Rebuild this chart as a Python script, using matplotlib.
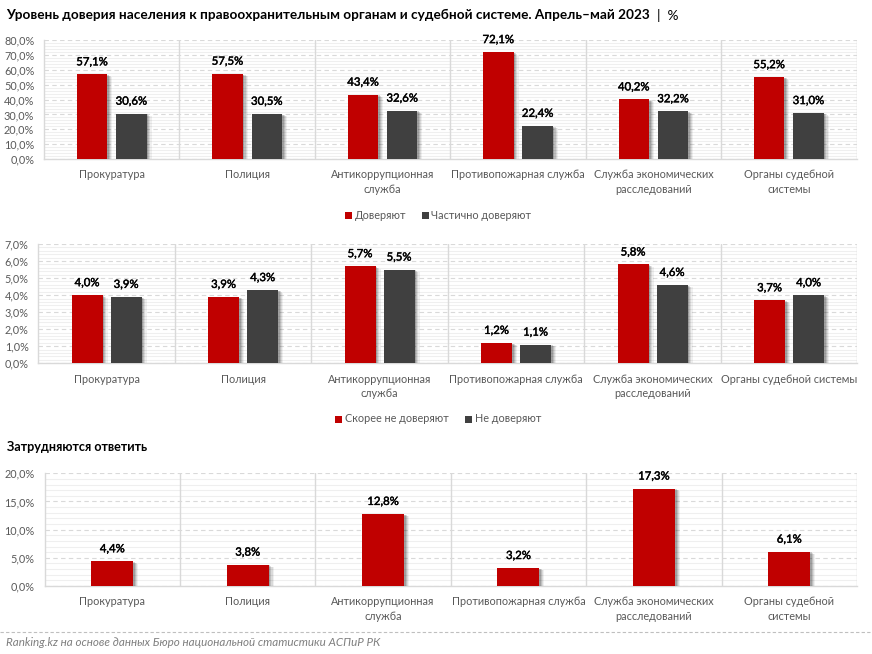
import matplotlib
matplotlib.use("Agg")
import matplotlib.pyplot as plt
import matplotlib.patheffects as pe
from matplotlib.ticker import MultipleLocator, FuncFormatter
import numpy as np

plt.rcParams['font.family'] = ['Lato', 'Noto Sans', 'DejaVu Sans']

title = "Уровень доверия населения к правоохранительным органам и судебной системе. Апрель–май 2023"
title_unit = "  |  %"
subtitle = "Затрудняются ответить"
source = "Ranking.kz на основе данных Бюро национальной статистики АСПиР РК"

cats_a = ["Прокуратура", "Полиция", "Антикоррупционная\nслужба", "Противопожарная служба",
          "Служба экономических\nрасследований", "Органы судебной\nсистемы"]
cats_b = ["Прокуратура", "Полиция", "Антикоррупционная\nслужба", "Противопожарная служба",
          "Служба экономических\nрасследований", "Органы судебной системы"]

trust = [57.1, 57.5, 43.4, 72.1, 40.2, 55.2]
part_trust = [30.6, 30.5, 32.6, 22.4, 32.2, 31.0]
rather_not = [4.0, 3.9, 5.7, 1.2, 5.8, 3.7]
not_trust = [3.9, 4.3, 5.5, 1.1, 4.6, 4.0]
hard = [4.4, 3.8, 12.8, 3.2, 17.3, 6.1]

RED = "#C00000"
DARK = "#404040"
W, H = 872, 654
fig = plt.figure(figsize=(W/100, H/100), dpi=100, facecolor="white")

def mkax(x0, x1, ytop, ybot):
    return fig.add_axes([x0/W, 1-ybot/H, (x1-x0)/W, (ybot-ytop)/H])

fmt = FuncFormatter(lambda v, p: f"{v:.1f}%".replace(".", ","))
shadow = [pe.SimplePatchShadow(offset=(d, -d*0.5), shadow_rgbFace="#000000", alpha=a)
          for d, a in ((3.6, 0.06), (2.8, 0.09), (2.0, 0.12), (1.2, 0.16))] + [pe.Normal()]
label_fx = [pe.withStroke(linewidth=0.3, foreground="black")]

def panel(ax, cats, series, colors, ymax, major, minor, bw, gap, ypad):
    x = np.arange(len(cats))
    n = len(series)
    offs = [0.0] if n == 1 else [-(bw+gap)/2, (bw+gap)/2]
    for s, c, o in zip(series, colors, offs):
        bars = ax.bar(x+o, s, bw, color=c, zorder=3)
        for b in bars:
            b.set_path_effects(shadow)
        for xi, v in zip(x+o, s):
            ax.annotate(f"{v:.1f}%".replace(".", ","), (xi, v), xytext=(0, 5), textcoords="offset points",
                        ha="center", va="bottom", fontsize=8.2, color="black", zorder=5,
                        path_effects=label_fx)
    ax.set_xlim(-0.5, len(cats)-0.5)
    ax.set_ylim(0, ymax)
    ax.yaxis.set_major_locator(MultipleLocator(major))
    ax.yaxis.set_minor_locator(MultipleLocator(minor))
    ax.yaxis.set_major_formatter(fmt)
    ax.grid(True, which="minor", axis="y", color="#EFEFEF", lw=0.8, zorder=0)
    ax.grid(True, which="major", axis="y", color="#D9D9D9", lw=0.8, ls=(0, (4, 3)), zorder=1)
    for sp in ("top", "right"):
        ax.spines[sp].set_visible(False)
    for sp in ("left", "bottom"):
        ax.spines[sp].set_color("#D9D9D9")
        ax.spines[sp].set_linewidth(1)
    for k in x:
        ax.axvline(k+0.5, color="#D9D9D9", lw=1, zorder=2)
    ax.set_xticks(x)
    ax.set_xticklabels(cats, fontsize=7.85, color="#595959", linespacing=1.42)
    ax.tick_params(axis="x", length=0, pad=7.5)
    ax.tick_params(axis="y", which="both", length=0, pad=ypad, labelsize=7.8, labelcolor="#595959")

ax1 = mkax(44, 856.5, 40.3, 159)
panel(ax1, cats_a, [trust, part_trust], [RED, DARK], 80, 10, 2, 0.225, 0.065, 7)
ax2 = mkax(38.3, 857.3, 244, 363.3)
panel(ax2, cats_b, [rather_not, not_trust], [RED, DARK], 7, 1, 0.2, 0.227, 0.059, 7)
ax3 = mkax(44.5, 857, 473.3, 586)
panel(ax3, cats_a, [hard], [RED], 20, 5, 1, 0.31, 0, 7)

def legend(items, y):
    for px, name, col in items:
        fig.patches.append(plt.Rectangle((px/W, 1-(y+3.5)/H), 7/W, 7/H, transform=fig.transFigure,
                                         color=col, lw=0))
        fig.text((px+9.5)/W, 1-y/H, name, fontsize=7.85, color="#595959", va="center", ha="left")

legend([(345, "Доверяют", RED), (421.5, "Частично доверяют", DARK)], 215.5)
legend([(335, "Скорее не доверяют", RED), (465, "Не доверяют", DARK)], 419)

t = fig.text(6/W, 1-15/H, title, fontsize=9.85, fontweight="bold", color="black", va="center", ha="left")
fig.canvas.draw()
bb = t.get_window_extent()
fig.text(bb.x1/W, 1-15/H, title_unit, fontsize=9.85, color="black", va="center", ha="left")
fig.text(7/W, 1-447/H, subtitle, fontsize=9.1, fontweight="bold", color="black", va="center", ha="left")
fig.add_artist(plt.Line2D([0, 1], [1-632/H]*2, color="#BFBFBF", lw=0.8, ls=(0, (3, 2))))
fig.text(6/W, 1-643/H, source, fontsize=8.4, style="italic", color="#7F7F7F", va="center", ha="left")

fig.savefig("out.png", dpi=100, facecolor="white")
